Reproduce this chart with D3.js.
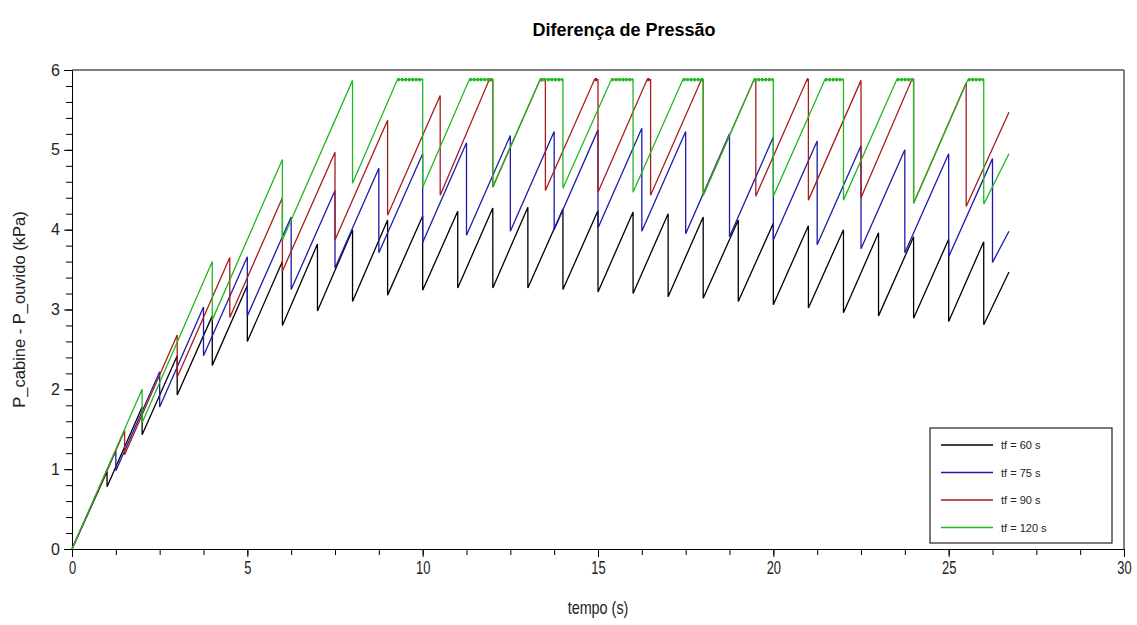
<!DOCTYPE html>
<html>
<head>
<meta charset="utf-8">
<script src="https://cdn.jsdelivr.net/npm/d3@7"></script>
<style>
  body { margin: 0; background: #fff; }
  text { font-family: "Liberation Sans", Arial, sans-serif; }
</style>
</head>
<body>
<svg id="chart" width="1137" height="625"></svg>
<script>
// Axis ticks
const xTicks = [0, 5, 10, 15, 20, 25, 30];
const yTicks = [0, 1, 2, 3, 4, 5, 6];

// Legend labels
const seriesLabels = ["tf = 60 s", "tf = 75 s", "tf = 90 s", "tf = 120 s"];

// [tempo (s), pressure difference (kPa)] vertices
const tf60 = [[0,0],[1,0.97],[1,0.78],[2,1.78],[2,1.43],[3,2.42],[3,1.93],[4,2.92],[4,2.30],
  [5,3.30],[5,2.60],[6,3.60],[6,2.80],[7,3.82],[7,2.98],[8,4.00],[8,3.10],[9,4.12],[9,3.18],
  [10,4.17],[10,3.24],[11,4.23],[11,3.27],[12,4.27],[12,3.27],[13,4.28],[13,3.27],[14,4.26],[14,3.25],
  [15,4.24],[15,3.22],[16,4.22],[16,3.20],[17,4.20],[17,3.16],[18,4.16],[18,3.14],[19,4.12],[19,3.10],
  [20,4.08],[20,3.06],[21,4.05],[21,3.02],[22,4.00],[22,2.96],[23,3.96],[23,2.92],[24,3.91],[24,2.89],
  [25,3.88],[25,2.85],[26,3.85],[26,2.81],[26.72,3.47]];

const tf75 = [[0,0],[1.25,1.23],[1.25,0.98],[2.5,2.22],[2.5,1.78],[3.75,3.03],[3.75,2.42],[5,3.66],[5,2.92],
  [6.25,4.16],[6.25,3.25],[7.5,4.49],[7.5,3.52],[8.75,4.77],[8.75,3.71],[10,4.95],[10,3.84],
  [11.25,5.09],[11.25,3.93],[12.5,5.18],[12.5,3.98],[13.75,5.23],[13.75,4.00],[15,5.25],[15,4.02],
  [16.25,5.27],[16.25,3.98],[17.5,5.23],[17.5,3.95],[18.75,5.20],[18.75,3.91],[20,5.16],[20,3.87],
  [21.25,5.11],[21.25,3.81],[22.5,5.05],[22.5,3.76],[23.75,5.00],[23.75,3.71],[25,4.95],[25,3.66],
  [26.25,4.89],[26.25,3.59],[26.72,3.98]];

const tf90 = [[0,0],[1.5,1.48],[1.5,1.18],[3,2.68],[3,2.15],[4.5,3.65],[4.5,2.90],[6,4.40],[6,3.48],
  [7.5,4.97],[7.5,3.87],[9,5.37],[9,4.18],[10.5,5.68],[10.5,4.43],[11.9,5.88],[12,5.88],[12,4.53],
  [13.35,5.88],[13.5,5.88],[13.5,4.49],[14.9,5.88],[15,5.88],[15,4.47],[16.4,5.88],[16.5,5.88],[16.5,4.43],
  [17.95,5.88],[18,5.88],[18,4.43],[19.45,5.88],[19.5,5.88],[19.5,4.42],[20.96,5.88],[21,5.88],[21,4.37],
  [22.5,5.87],[22.5,4.40],[23.95,5.88],[24,5.88],[24,4.33],[25.5,5.84],[25.5,4.29],[26.72,5.47]];

const tf120 = [[0,0],[2,2.00],[2,1.58],[4,3.60],[4,2.87],[6,4.88],[6,3.87],[8,5.87],[8,4.58],
  [9.28,5.88],[10,5.88],[10,4.53],[11.33,5.88],[12,5.88],[12,4.54],[13.35,5.88],[14,5.88],[14,4.52],
  [15.38,5.88],[16,5.88],[16,4.47],[17.42,5.88],[18,5.88],[18,4.43],[19.45,5.88],[20,5.88],[20,4.42],
  [21.47,5.88],[22,5.88],[22,4.37],[23.52,5.88],[24,5.88],[24,4.33],[25.55,5.88],[26,5.88],[26,4.32],
  [26.72,4.95]];

const seriesData = [tf60, tf75, tf90, tf120];
const colors = ["#000000", "#1c1ca8", "#a81c1c", "#22b822"];

const svg = d3.select("#chart");
const margin = {top: 70, right: 13, bottom: 76, left: 72};
const width = 1137 - margin.left - margin.right;
const height = 625 - margin.top - margin.bottom;

const x = d3.scaleLinear().domain([0, 30]).range([margin.left, margin.left + width]);
const y = d3.scaleLinear().domain([0, 6]).range([margin.top + height, margin.top]);

// Title
svg.append("text")
    .attr("x", 624)
    .attr("y", 36)
    .attr("text-anchor", "middle")
    .style("font-size", "18px")
    .style("font-weight", "bold")
    .text("Diferença de Pressão");

// Frame (top and right)
svg.append("line")
    .attr("x1", x(0)).attr("x2", x(30))
    .attr("y1", y(6)).attr("y2", y(6))
    .attr("stroke", "#555").attr("stroke-width", 1.5);
svg.append("line")
    .attr("x1", x(30)).attr("x2", x(30))
    .attr("y1", y(6)).attr("y2", y(0))
    .attr("stroke", "#555").attr("stroke-width", 1.5);

// X axis: minor then major
svg.append("g")
    .attr("transform", `translate(0,${y(0)})`)
    .call(d3.axisBottom(x).tickValues(d3.range(0, 30.01, 1.25)).tickSize(6).tickFormat(""))
    .call(g => g.select(".domain").remove());
const xAxis = svg.append("g")
    .attr("transform", `translate(0,${y(0)})`)
    .call(d3.axisBottom(x).tickValues(xTicks).tickSize(8).tickSizeOuter(0).tickPadding(4).tickFormat(d3.format("d")));
xAxis.selectAll("text")
    .style("font-size", "19px")
    .attr("transform", "scale(0.68,1)")
    .attr("fill", "#222");

// Y axis: minor then major
svg.append("g")
    .attr("transform", `translate(${x(0)},0)`)
    .call(d3.axisLeft(y).tickValues(d3.range(0, 6.01, 0.2)).tickSize(6).tickFormat(""))
    .call(g => g.select(".domain").remove());
const yAxis = svg.append("g")
    .attr("transform", `translate(${x(0)},0)`)
    .call(d3.axisLeft(y).tickValues(yTicks).tickSize(8).tickSizeOuter(0).tickPadding(4).tickFormat(d3.format("d")));
yAxis.selectAll("text")
    .style("font-size", "16px")
    .attr("fill", "#222");

// Axis labels
svg.append("text")
    .attr("transform", `translate(${x(15)},614) scale(0.8,1)`)
    .attr("text-anchor", "middle")
    .style("font-size", "18px")
    .attr("fill", "#222")
    .text("tempo (s)");

svg.append("text")
    .attr("transform", `translate(25,${(y(0) + y(6)) / 2}) rotate(-90)`)
    .attr("text-anchor", "middle")
    .style("font-size", "16.5px")
    .attr("fill", "#222")
    .text("P_cabine - P_ouvido (kPa)");

// Lines
const line = d3.line()
    .x(d => x(d[0]))
    .y(d => y(d[1]));

seriesData.forEach((data, i) => {
    svg.append("path")
        .datum(data)
        .attr("fill", "none")
        .attr("stroke", colors[i])
        .attr("stroke-width", 1.3)
        .attr("d", line);

    // saturated stretches look thicker (chatter at the limit)
    const flats = [];
    for (let k = 0; k < data.length - 1; k++) {
        if (data[k][1] === data[k + 1][1]) flats.push([data[k], data[k + 1]]);
    }
    svg.selectAll(null)
        .data(flats)
        .enter()
        .append("path")
        .attr("fill", "none")
        .attr("stroke", colors[i])
        .attr("stroke-width", 3.2)
        .attr("stroke-dasharray", "2.5,1")
        .attr("d", line);
});

// Legend
const legend = svg.append("g");
legend.append("rect")
    .attr("x", 930).attr("y", 428)
    .attr("width", 182).attr("height", 115)
    .attr("fill", "#fff")
    .attr("stroke", "#222")
    .attr("stroke-width", 1.2);

seriesLabels.forEach((label, i) => {
    const ly = 445 + i * 27.5;
    legend.append("line")
        .attr("x1", 941).attr("x2", 993)
        .attr("y1", ly).attr("y2", ly)
        .attr("stroke", colors[i])
        .attr("stroke-width", 1.3);
    legend.append("text")
        .attr("x", 1001)
        .attr("y", ly + 4)
        .style("font-size", "11px")
        .attr("fill", "#222")
        .text(label);
});
</script>
</body>
</html>
